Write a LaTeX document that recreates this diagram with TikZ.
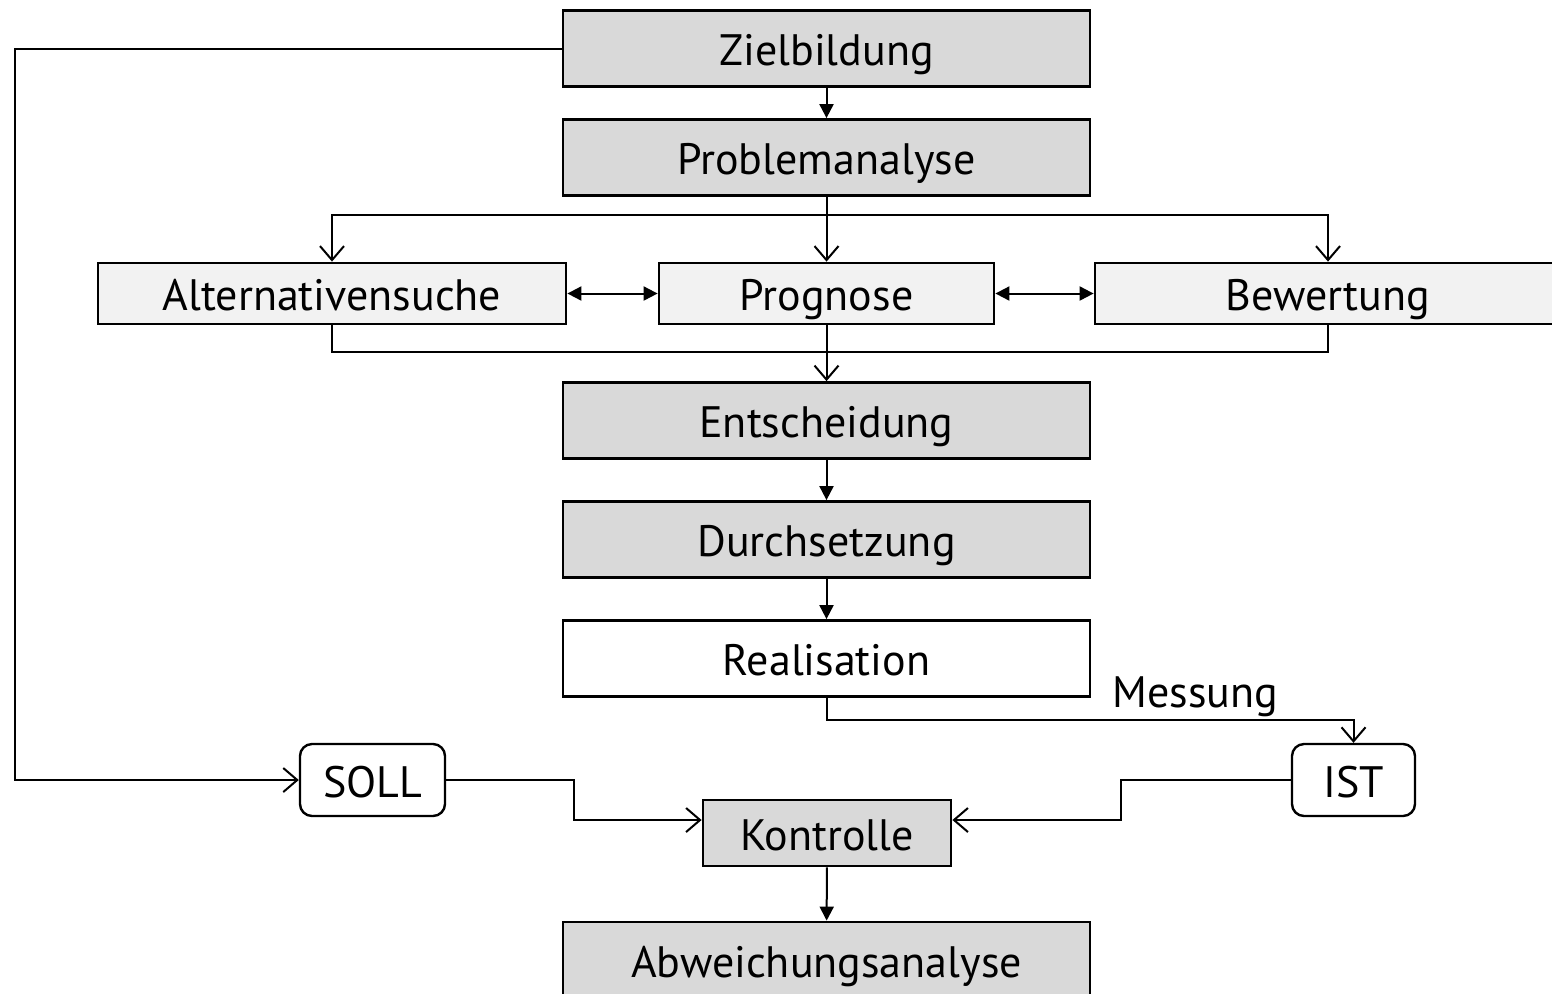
\documentclass[tikz,border=0pt]{standalone}
\usepackage{fontspec}
\setmainfont{PT Sans}
\usetikzlibrary{arrows.meta}
\definecolor{boxdark}{HTML}{D9D9D9}
\definecolor{boxlight}{HTML}{F2F2F2}
\tikzset{
  stage/.style={draw, line width=1.4pt, fill=boxdark, minimum width=263.5pt, minimum height=38pt, inner sep=0pt, text height=17pt, text depth=0pt},
  substage/.style={stage, fill=boxlight, minimum height=30.5pt},
  value/.style={draw, line width=1.2pt, rounded corners=6pt, minimum height=36pt, inner sep=0pt, text height=17pt, text depth=0pt},
  flow/.style={line width=1pt, -{Triangle[length=7pt,width=7pt]}},
  bothflow/.style={line width=1pt, {Triangle[length=7pt,width=7pt]}-{Triangle[length=7pt,width=7pt]}},
  feed/.style={line width=1pt, -{Straight Barb[length=7pt,width=12pt]}},
  link/.style={line width=1pt}
}
\begin{document}
\begin{tikzpicture}[x=0.5pt, y=-0.5pt, font=\fontsize{22}{26}\selectfont]
  \clip (0,0) rectangle (1552,993);
  \node[stage] (ziel) at (826.5,48.5) {Zielbildung};
  \node[stage] (prob) at (826.5,157.5) {Problemanalyse};
  \node[substage, minimum width=234pt] (alt) at (332,293.5) {Alternativensuche};
  \node[substage, minimum width=167.5pt] (prog) at (826.5,293.5) {Prognose};
  \node[substage, minimum width=233pt] (bew) at (1328,293.5) {Bewertung};
  \node[stage] (ent) at (826.5,420.5) {Entscheidung};
  \node[stage] (durch) at (826.5,539.5) {Durchsetzung};
  \node[stage, fill=white] (real) at (826.5,658.5) {Realisation};
  \node[value, minimum width=72.5pt] (soll) at (372.5,780) {SOLL};
  \node[value, minimum width=61.5pt] (ist) at (1353.5,780) {IST};
  \node[stage, minimum width=124pt, minimum height=33pt] (kon) at (827,833) {Kontrolle};
  \node[stage] (abw) at (826.5,960) {Abweichungsanalyse};
  \coordinate (lft) at (15,400);
  \coordinate (split) at (826.5,215);
  \coordinate (join) at (826.5,352);
  \coordinate (mess) at (826.5,720);
  \draw[flow] (ziel) -- (prob);
  \draw[link] (prob.south) -- (split);
  \draw[feed] (split) -| (alt.north);
  \draw[feed] (split) -- (prog.north);
  \draw[feed] (split) -| (bew.north);
  \draw[bothflow] (alt) -- (prog);
  \draw[bothflow] (prog) -- (bew);
  \draw[link] (alt.south) |- (join) -| (bew.south);
  \draw[link] (prog.south) -- (join);
  \draw[feed] (join) -- (ent.north);
  \draw[flow] (ent) -- (durch);
  \draw[flow] (durch) -- (real);
  \draw[feed] (real.south) -- (mess) -| node[pos=0.35, above, inner sep=1pt] {Messung} (ist.north);
  \draw[feed] (ziel.west) -| (lft) |- (soll.west);
  \draw[feed] (soll.east) -- ++(128,0) |- ([yshift=6.5pt]kon.west);
  \draw[feed] (ist.west) -- ++(-170,0) |- ([yshift=6.5pt]kon.east);
  \draw[flow] (kon) -- (abw);
\end{tikzpicture}
\end{document}
